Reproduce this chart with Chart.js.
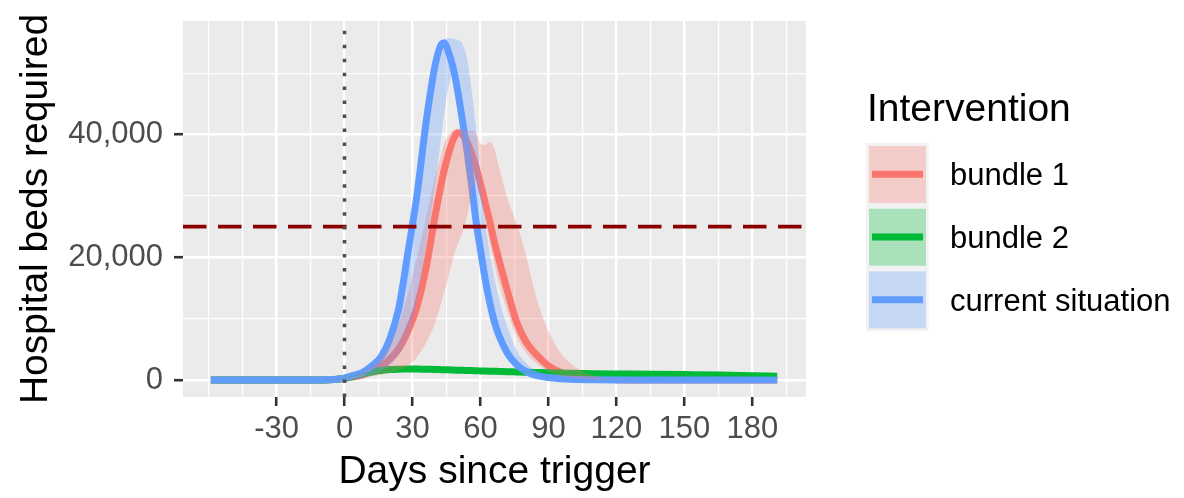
<!DOCTYPE html>
<html>
<head>
<meta charset="utf-8">
<script src="https://cdn.jsdelivr.net/npm/chart.js@4.4.0/dist/chart.umd.min.js"></script>
<style>
  html, body { margin: 0; padding: 0; background: #ffffff; }
</style>
</head>
<body>
<canvas id="myChart" width="1184" height="498"></canvas>
<script>
// days since trigger (shared x values for every series)
var days = [-59, -40, -20, -10, -5, 0, 4, 8, 12, 16, 20, 24, 28, 32, 36, 40, 43, 44, 46, 48, 50, 52, 54, 56, 58, 60, 62, 64, 66, 68, 72, 76, 80, 85, 90, 95, 100, 110, 120, 135, 150, 165, 180, 191];

// hospital beds, median line + ribbon bounds
var bundle1 = [0, 0, 0, 15, 60, 250, 500, 850, 1400, 2150, 3400, 5100, 8000, 12000, 18300, 26800, 32500, 34200, 37000, 39200, 40300, 40000, 38800, 37000, 34700, 32000, 29000, 26000, 22700, 19800, 14400, 9400, 6300, 4000, 2300, 1300, 700, 200, 60, 10, 0, 0, 0, 0];
var bundle1High = [0, 0, 0, 25, 90, 320, 700, 1300, 2300, 3700, 6000, 9300, 14000, 20000, 26500, 33000, 37200, 38500, 40000, 40700, 40800, 40800, 40700, 40600, 40300, 38500, 38300, 38800, 37800, 35000, 29500, 25500, 20500, 13000, 8000, 4600, 2600, 700, 150, 30, 0, 0, 0, 0];
var bundle1Low = [0, 0, 0, 0, 10, 100, 200, 350, 550, 850, 1200, 1600, 2300, 3700, 6100, 9300, 13000, 14300, 17000, 20000, 22200, 24000, 26500, 30000, 32500, 30000, 26500, 22500, 19000, 16000, 11000, 7000, 4500, 2600, 1400, 750, 400, 100, 20, 0, 0, 0, 0, 0];

var bundle2 = [0, 0, 0, 10, 60, 300, 650, 1000, 1300, 1550, 1700, 1760, 1800, 1790, 1750, 1720, 1680, 1670, 1650, 1620, 1600, 1580, 1550, 1530, 1500, 1480, 1460, 1440, 1420, 1400, 1360, 1300, 1260, 1220, 1180, 1130, 1090, 1030, 990, 940, 880, 810, 700, 600];
var bundle2High = [0, 0, 0, 20, 100, 400, 800, 1200, 1550, 1800, 1950, 2030, 2070, 2060, 2010, 1980, 1930, 1920, 1900, 1870, 1840, 1820, 1790, 1760, 1730, 1700, 1680, 1660, 1640, 1610, 1560, 1500, 1450, 1400, 1350, 1300, 1250, 1190, 1140, 1080, 1010, 930, 810, 700];
var bundle2Low = [0, 0, 0, 0, 30, 200, 500, 850, 1120, 1350, 1480, 1540, 1580, 1570, 1540, 1510, 1470, 1460, 1450, 1420, 1400, 1390, 1360, 1340, 1320, 1300, 1280, 1270, 1250, 1230, 1200, 1140, 1110, 1070, 1040, 990, 960, 900, 870, 810, 770, 700, 600, 510];

var current = [0, 0, 0, 20, 80, 300, 750, 1250, 2300, 3700, 6700, 11800, 20800, 30200, 42000, 51300, 54800, 54900, 53300, 50800, 47000, 42400, 37500, 32000, 26000, 21200, 16600, 12800, 9700, 7400, 4300, 2500, 1400, 700, 400, 220, 120, 40, 10, 0, 0, 0, 0, 0];
var currentHigh = [0, 0, 0, 25, 90, 350, 800, 1350, 2500, 4000, 7200, 12500, 21800, 31500, 43200, 52300, 55200, 55500, 55700, 55600, 55400, 54800, 52500, 47500, 41000, 33000, 26000, 21000, 17000, 13500, 8500, 4800, 2800, 1400, 750, 400, 220, 60, 15, 0, 0, 0, 0, 0];
var currentLow = [0, 0, 0, 0, 20, 100, 150, 350, 800, 1350, 2450, 4100, 7300, 12800, 22000, 31700, 40500, 43300, 48000, 50000, 46000, 41500, 36500, 31000, 25200, 20500, 16000, 12300, 9300, 7100, 4100, 2400, 1300, 650, 370, 200, 110, 35, 8, 0, 0, 0, 0, 0];

var names = ['bundle 1', 'bundle 2', 'current situation'];
var lineColors = ['#F8766D', '#00BA38', '#619CFF'];
var fillColors = ['rgba(248, 118, 109, 0.3)', 'rgba(0, 186, 56, 0.3)', 'rgba(97, 156, 255, 0.3)'];

// gridlines (major + minor) and labelled ticks
var xGrid = [-60, -45, -30, -15, 0, 15, 30, 45, 60, 75, 90, 105, 120, 135, 150, 165, 180, 195];
var xLabels = [-30, 0, 30, 60, 90, 120, 150, 180];
var yGrid = [0, 10000, 20000, 30000, 40000, 50000];
var yLabels = [0, 20000, 40000];

var bedCapacity = 25000;
var triggerDay = 0;

var fontFamily = "'Liberation Sans', Arial, sans-serif";
Chart.defaults.font.family = fontFamily;

function pts(arr) {
    return days.map(function (d, i) { return { x: d, y: arr[i] }; });
}

function lineSet(label, arr, k, order) {
    return {
        label: label,
        data: pts(arr),
        borderColor: lineColors[k],
        borderWidth: 7,
        borderJoinStyle: 'round',
        pointRadius: 0,
        fill: false,
        cubicInterpolationMode: 'monotone',
        order: order
    };
}

function bandSet(label, arr, k, target, order) {
    return {
        label: label,
        data: pts(arr),
        borderWidth: 0,
        borderColor: 'rgba(0,0,0,0)',
        backgroundColor: fillColors[k],
        pointRadius: 0,
        fill: target === null ? false : target,
        cubicInterpolationMode: 'monotone',
        order: order
    };
}

// grey panel behind the grid
const panelBg = {
    id: 'panelBg',
    beforeDraw(chart) {
        const a = chart.chartArea;
        chart.ctx.save();
        chart.ctx.fillStyle = '#EBEBEB';
        chart.ctx.fillRect(a.left, a.top, a.right - a.left, a.bottom - a.top);
        chart.ctx.restore();
    }
};

// threshold + trigger reference lines
const refLines = {
    id: 'refLines',
    afterDatasetsDraw(chart) {
        const c = chart.ctx, a = chart.chartArea;
        const yy = chart.scales.y.getPixelForValue(bedCapacity);
        const xx = chart.scales.x.getPixelForValue(triggerDay);
        c.save();
        c.beginPath();
        c.rect(a.left, a.top, a.right - a.left, a.bottom - a.top);
        c.clip();
        c.lineCap = 'butt';
        c.strokeStyle = '#8B0000';
        c.lineWidth = 3.8;
        c.setLineDash([23.5, 11.5]);
        c.beginPath();
        c.moveTo(a.left, yy);
        c.lineTo(a.right, yy);
        c.stroke();
        c.strokeStyle = '#4D4D4D';
        c.lineWidth = 3.5;
        c.setLineDash([3.5, 10.45]);
        c.beginPath();
        c.moveTo(xx, a.bottom);
        c.lineTo(xx, a.top);
        c.stroke();
        c.restore();
    }
};

// ggplot style legend on the right
const legendBox = {
    id: 'legendBox',
    afterDraw(chart) {
        const c = chart.ctx;
        c.save();
        c.fillStyle = '#000000';
        c.textAlign = 'left';
        c.textBaseline = 'alphabetic';
        c.font = '39px ' + fontFamily;
        c.fillText('Intervention', 867, 121);
        c.fillStyle = '#F2F2F2';
        c.fillRect(866, 143, 62.5, 188);
        c.font = '31px ' + fontFamily;
        c.textBaseline = 'middle';
        for (let i = 0; i < names.length; i++) {
            const top = 143 + i * 62.7;
            const mid = top + 31.3;
            c.fillStyle = fillColors[i];
            c.fillRect(869, top + 3, 57, 57);
            c.strokeStyle = lineColors[i];
            c.lineWidth = 7;
            c.beginPath();
            c.moveTo(872, mid);
            c.lineTo(923, mid);
            c.stroke();
            c.fillStyle = '#000000';
            c.fillText(names[i], 950, mid + 2.5);
        }
        c.restore();
    }
};

const ctx = document.getElementById('myChart');
const myChart = new Chart(ctx, {
    type: 'line',
    data: {
        datasets: [
            lineSet(names[0], bundle1, 0, 6),
            lineSet(names[1], bundle2, 1, 5),
            lineSet(names[2], current, 2, 4),
            bandSet(names[0] + ' high', bundle1High, 0, 4, 3),
            bandSet(names[0] + ' low', bundle1Low, 0, null, 3),
            bandSet(names[1] + ' high', bundle2High, 1, 6, 2),
            bandSet(names[1] + ' low', bundle2Low, 1, null, 2),
            bandSet(names[2] + ' high', currentHigh, 2, 8, 1),
            bandSet(names[2] + ' low', currentLow, 2, null, 1)
        ]
    },
    options: {
        responsive: false,
        animation: false,
        layout: {
            padding: { top: 21, right: 378, bottom: 0, left: 0 }
        },
        plugins: {
            legend: { display: false },
            tooltip: { enabled: false },
            filler: { propagate: false }
        },
        scales: {
            x: {
                type: 'linear',
                min: -71.3,
                max: 203.7,
                afterBuildTicks: function (axis) {
                    axis.ticks = xGrid.map(function (v) { return { value: v }; });
                },
                afterFit: function (axis) {
                    axis.height = 101;
                    axis.paddingLeft = 0;
                    axis.paddingRight = 0;
                },
                border: { display: false },
                grid: {
                    color: '#FFFFFF',
                    lineWidth: function (c) { return xLabels.includes(c.tick.value) ? 2.4 : 1.2; },
                    tickLength: 9,
                    tickWidth: 2.6,
                    tickColor: function (c) { return xLabels.includes(c.tick.value) ? '#333333' : 'rgba(0,0,0,0)'; }
                },
                ticks: {
                    autoSkip: false,
                    maxRotation: 0,
                    padding: 5,
                    color: '#4D4D4D',
                    font: { size: 31 },
                    callback: function (value) { return xLabels.includes(value) ? String(value) : ''; }
                },
                title: {
                    display: true,
                    text: 'Days since trigger',
                    color: '#000000',
                    font: { size: 39 },
                    padding: { top: 0, bottom: 2 }
                }
            },
            y: {
                min: -2770,
                max: 58490,
                afterBuildTicks: function (axis) {
                    axis.ticks = yGrid.map(function (v) { return { value: v }; });
                },
                afterFit: function (axis) {
                    axis.width = 183;
                    axis.paddingTop = 0;
                    axis.paddingBottom = 0;
                },
                border: { display: false },
                grid: {
                    color: '#FFFFFF',
                    lineWidth: function (c) { return yLabels.includes(c.tick.value) ? 2.4 : 1.2; },
                    tickLength: 9,
                    tickWidth: 2.6,
                    tickColor: function (c) { return yLabels.includes(c.tick.value) ? '#333333' : 'rgba(0,0,0,0)'; }
                },
                ticks: {
                    autoSkip: false,
                    padding: 11,
                    color: '#4D4D4D',
                    font: { size: 31 },
                    callback: function (value) { return yLabels.includes(value) ? value.toLocaleString('en-US') : ''; }
                },
                title: {
                    display: true,
                    text: 'Hospital beds required',
                    color: '#000000',
                    font: { size: 39 },
                    padding: { top: 13, bottom: 0 }
                }
            }
        }
    },
    plugins: [panelBg, refLines, legendBox]
});
</script>
</body>
</html>
